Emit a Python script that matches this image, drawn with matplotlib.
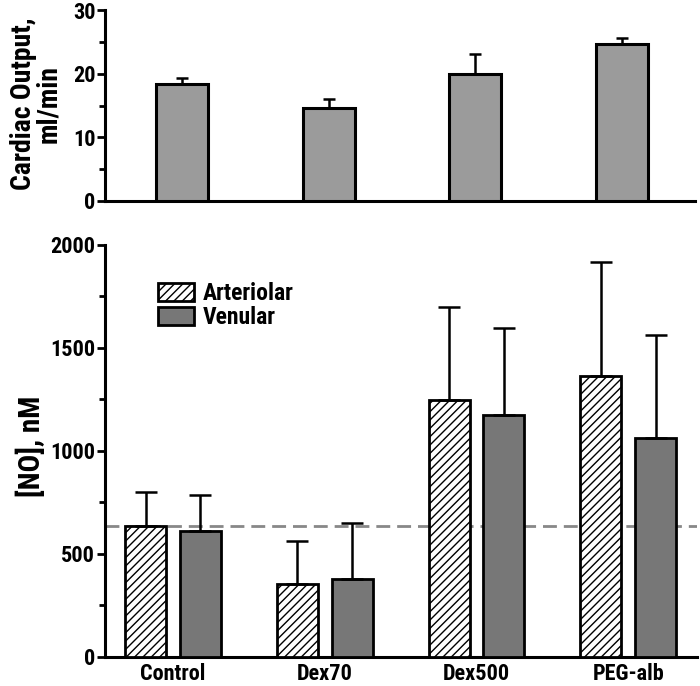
import matplotlib
matplotlib.use("Agg")
import matplotlib.pyplot as plt
from matplotlib.ticker import MultipleLocator
import numpy as np

plt.rcParams['font.family'] = ['Roboto Condensed', 'IBM Plex Sans Condensed', 'DejaVu Sans']
plt.rcParams['font.weight'] = 'bold'
plt.rcParams['hatch.linewidth'] = 1.0
plt.rcParams['ytick.labelsize'] = 16
plt.rcParams['xtick.labelsize'] = 16

groups = ["Control", "Dex70", "Dex500", "PEG-alb"]

# cardiac output, ml/min
co_mean = [18.4, 14.6, 19.9, 24.7]
co_err = [0.9, 1.4, 3.2, 1.0]

# [NO], nM
art_mean = [632, 352, 1247, 1361]
art_err = [167, 210, 449, 557]
ven_mean = [612, 376, 1173, 1064]
ven_err = [174, 272, 421, 499]
baseline = 632

fig = plt.figure(figsize=(7, 6.86), dpi=100)
ax1 = fig.add_axes([0.15, 0.707, 0.843, 0.278])
ax2 = fig.add_axes([0.15, 0.043, 0.846, 0.600])

x = np.arange(len(groups))

# top panel
ax1.bar(x, co_mean, width=0.355, color="#9b9b9b", edgecolor="black", linewidth=2.2,
        yerr=[np.zeros(4), co_err], error_kw=dict(ecolor="black", elinewidth=1.8, capsize=4, capthick=1.8),
        zorder=3)
ax1.set_xlim(-0.526, 3.5)
ax1.set_ylim(0, 30)
ax1.yaxis.set_major_locator(MultipleLocator(10))
ax1.yaxis.set_minor_locator(MultipleLocator(5))
ax1.set_xticks([])
ax1.set_ylabel("Cardiac Output,\nml/min", fontsize=20, fontweight='bold', linespacing=0.95)
ax1.yaxis.set_label_coords(-0.072, 0.51)

# bottom panel
w = 0.27
off = 0.18
ax2.axhline(baseline, color="#888888", linestyle=(0, (5, 2.5)), linewidth=2, zorder=1)
ax2.bar(x - off, art_mean, width=w, color="white", edgecolor="black", hatch="////", linewidth=2,
        yerr=[np.zeros(4), art_err], error_kw=dict(ecolor="black", elinewidth=1.8, capsize=8, capthick=1.8),
        label="Arteriolar", zorder=3)
ax2.bar(x + off, ven_mean, width=w, color="#777777", edgecolor="black", linewidth=2,
        yerr=[np.zeros(4), ven_err], error_kw=dict(ecolor="black", elinewidth=1.8, capsize=8, capthick=1.8),
        label="Venular", zorder=3)
ax2.set_xlim(-0.448, 3.454)
ax2.set_ylim(0, 2000)
ax2.yaxis.set_major_locator(MultipleLocator(500))
ax2.yaxis.set_minor_locator(MultipleLocator(250))
ax2.set_xticks(x)
ax2.set_xticklabels(groups, fontsize=16)
ax2.tick_params(axis='x', length=0, pad=5)
ax2.set_ylabel("[NO], nM", fontsize=21, fontweight='bold')
ax2.yaxis.set_label_coords(-0.1, 0.51)
ax2.legend(loc="upper left", bbox_to_anchor=(0.09, 0.91), frameon=False, fontsize=17,
           borderpad=0, borderaxespad=0, handlelength=1.5, handleheight=0.8,
           handletextpad=0.4, labelspacing=0.05)

for ax in (ax1, ax2):
    ax.spines['top'].set_visible(False)
    ax.spines['right'].set_visible(False)
    ax.spines['left'].set_linewidth(2.2)
    ax.spines['bottom'].set_linewidth(2.2)
    ax.tick_params(axis='y', which='major', length=6, width=2, pad=1, labelsize=16)
    ax.tick_params(axis='y', which='minor', length=4, width=2)
    for lbl in ax.get_yticklabels():
        lbl.set_fontsize(16)

fig.savefig("out.png", dpi=100)
